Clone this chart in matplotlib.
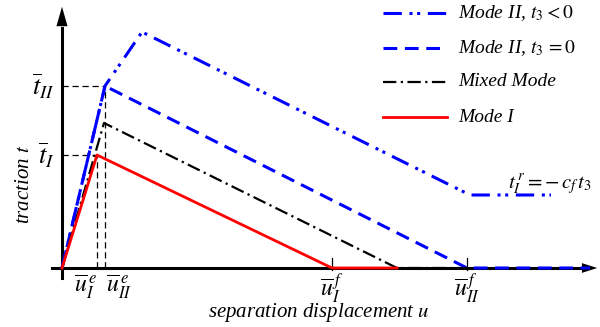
import numpy as np
import matplotlib.pyplot as plt

plt.rcParams['font.family'] = ['Liberation Serif', 'DejaVu Serif']
plt.rcParams['mathtext.fontset'] = 'stix'

# --- Data (separation u, traction t; arbitrary units) -------------------------
u_mode1 = [0, 35, 270, 335]
t_mode1 = [0, 113, 0, 0]

u_mixed = [0, 42, 335, 405]
t_mixed = [0, 145, 0, 0]

u_mode2 = [0, 43, 405, 528]
t_mode2 = [0, 182, 0, 0]

u_mode2_neg = [0, 43, 80, 408, 489]
t_mode2_neg = [0, 182, 236, 73, 73]

u_e = [35, 43]          # u_I^e, u_II^e
t_bar = [113, 182]      # t_I, t_II
u_f = [270, 405]        # u_I^f, u_II^f

legend_labels = [r"Mode II, $t_3 < 0$", r"Mode II, $t_3\,=0$",
                 "Mixed Mode", "Mode I"]

# --- Figure -------------------------------------------------------------------
fig = plt.figure(figsize=(6.0, 3.27), dpi=100)
ax = fig.add_axes([0, 0, 1, 1])
ax.set_xlim(-62, 538)
ax.set_ylim(-59, 268)
ax.axis("off")

# axes with arrows
ax.plot([-10, 525], [0, 0], color="k", lw=2.2, zorder=1)
ax.plot([0, 0], [-10, 240], color="k", lw=2.2, zorder=1)
ax.annotate("", xy=(538, 0), xytext=(520, 0),
            arrowprops=dict(arrowstyle="-|>,head_length=1.1,head_width=0.35",
                            color="k", lw=0), zorder=1)
ax.annotate("", xy=(0, 264), xytext=(0, 238),
            arrowprops=dict(arrowstyle="-|>,head_length=1.4,head_width=0.4",
                            color="k", lw=0), zorder=1)

# guide lines
for ue, tb in zip(u_e, t_bar):
    ax.plot([0, ue], [tb, tb], color="k", lw=0.9, ls=(0, (5, 3)), zorder=2)
    ax.plot([ue, ue], [0, tb], color="k", lw=0.9, ls=(0, (5, 3)), zorder=2)

# small ticks at failure displacements
for uf in u_f:
    ax.plot([uf, uf], [-2, 10], color="k", lw=0.9, zorder=2)

# curves
styles = [
    dict(color="blue", lw=2.2, ls=(0, (6, 2.5, 1, 1.5, 1, 2.5))),  # Mode II, t3<0
    dict(color="blue", lw=2.2, ls=(0, (4.5, 2.5))),                # Mode II, t3=0
    dict(color="k", lw=1.6, ls=(0, (6, 2, 1, 2))),                 # Mixed
    dict(color="red", lw=2.0, ls="-"),                             # Mode I
]
curves = [(u_mode2_neg, t_mode2_neg), (u_mode2, t_mode2),
          (u_mixed, t_mixed), (u_mode1, t_mode1)]
for z, ((u, t), st) in enumerate(zip(curves, styles)):
    ax.plot(u, t, zorder=3 + z, **st)

# legend drawn by hand
leg_y = [255, 220, 186, 151]
for st, y, lab in zip(styles, leg_y, legend_labels):
    ax.plot([321, 385], [y, y], zorder=3, **st)
    ax.text(396, y, lab, fontsize=14, style="italic", va="center", ha="left")

# tick labels
fs = 19
ax.text(-7, t_bar[1], r"$\overline{t}_{II}$", fontsize=fs, ha="right", va="center")
ax.text(-7, t_bar[0], r"$\overline{t}_{I}$", fontsize=fs, ha="right", va="center")
fu = 17
ax.text(u_e[0] - 12, -5, r"$\overline{u}_{I}^{\,e}$", fontsize=fu, ha="center", va="top")
ax.text(u_e[1] + 14, -5, r"$\overline{u}_{II}^{\,e}$", fontsize=fu, ha="center", va="top")
ax.text(u_f[0], -3, r"$\overline{u}_{I}^{\,f}$", fontsize=fu, ha="center", va="top")
ax.text(u_f[1], -3, r"$\overline{u}_{II}^{\,f}$", fontsize=fu, ha="center", va="top")

ax.text(488, 83, r"$t_{I}^{\,r} = -\,c_f\,t_3$", fontsize=15, ha="center", va="center")

# axis labels
ax.text(-38, 84, "traction $t$", fontsize=15, style="italic", rotation=90,
        ha="center", va="center")
ax.text(257, -45, "separation displacement $u$", fontsize=15, style="italic",
        ha="center", va="center")

fig.savefig("out.png", dpi=100)
